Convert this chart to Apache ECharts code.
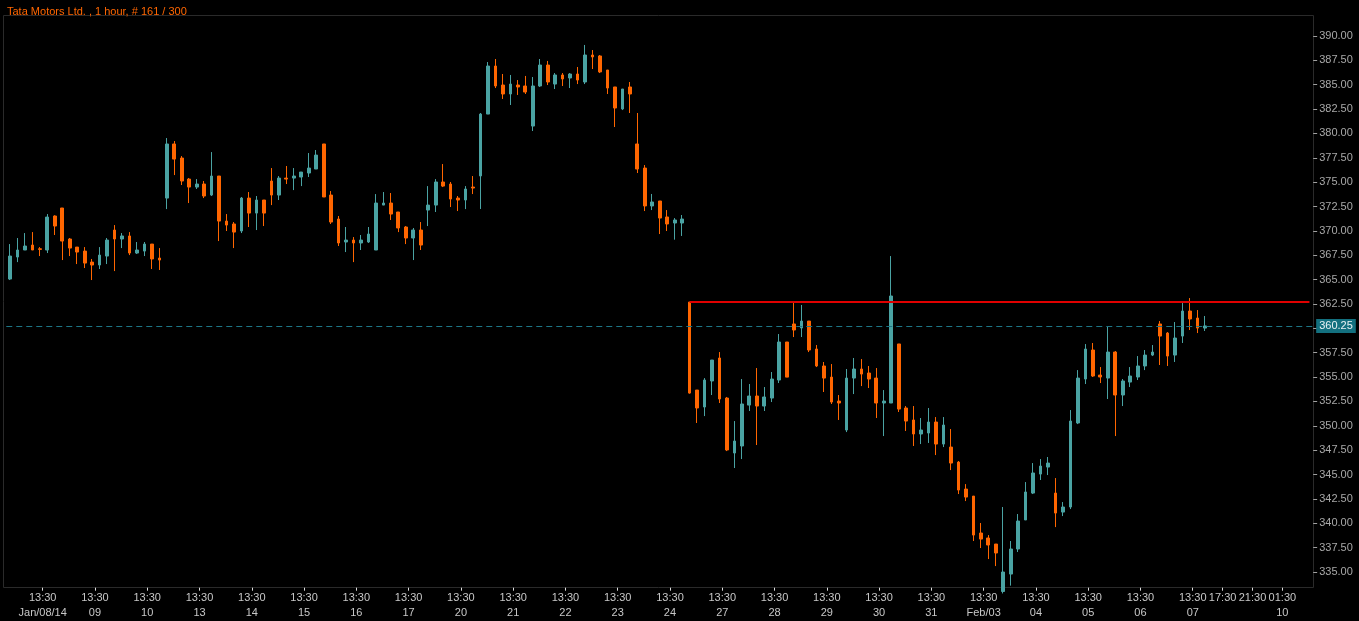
<!DOCTYPE html>
<html>
<head>
<meta charset="utf-8">
<script src="https://cdn.jsdelivr.net/npm/echarts@6/dist/echarts.min.js"></script>
<style>
html,body{margin:0;padding:0;background:#000;}
#c{width:1359px;height:621px;}
</style>
</head>
<body>
<div id="c"></div>
<script>
// ---- data ----
const titleText = 'Tata Motors Ltd. , 1 hour, # 161 / 300';
const days = ['Jan/08/14','09','10','13','14','15','16','17','20','21','22','23','24','27','28','29','30','31','Feb/03','04','05','06','07'];
const hours = ['09:30','10:30','11:30','12:30','13:30','14:30','15:30'];
const labeledHour = '13:30';
const futureHours = ['16:30','17:30','18:30','19:30','20:30','21:30','22:30','23:30','00:30','01:30','02:30','03:30','04:30','05:30'];
const futureTickHours = ['17:30','21:30','01:30'];
const futureTickDates = {'01:30':'10'};
// [open, high, low, close]
const ohlc = [
[365.06,368.65,364.96,367.42],[367.32,369.27,366.80,368.04],[368.04,369.78,368.04,368.45],[368.55,369.88,368.04,368.04],
[368.17,368.34,367.42,368.10],[368.04,371.73,367.73,371.42],[371.53,371.60,369.58,370.50],[372.35,372.35,367.01,368.96],
[369.17,369.27,367.42,368.24],[368.34,368.34,366.60,367.83],[367.93,368.34,366.19,366.70],[366.80,367.12,364.96,366.50],
[366.50,368.34,366.09,367.52],[367.42,369.27,366.60,369.06],[370.09,370.60,365.88,369.17],[369.17,369.78,368.24,369.48],
[369.48,369.88,367.52,367.73],[367.73,368.86,367.63,368.04],[367.93,368.86,367.42,368.65],[368.65,368.65,366.09,367.12],
[367.22,368.24,365.99,367.01],[373.37,379.53,372.24,378.92],[378.92,379.22,375.73,377.37],[377.48,377.68,374.71,375.12],
[375.32,375.43,372.86,374.50],[374.50,375.32,374.30,374.81],[374.81,375.12,373.37,373.58],[373.68,378.09,373.58,375.63],
[375.63,375.63,368.96,371.01],[371.01,371.73,369.99,370.60],[370.71,370.91,368.24,369.88],[369.99,373.48,369.78,373.37],
[373.37,373.99,370.40,371.83],[371.83,373.58,370.09,373.17],[373.17,373.17,370.50,371.83],[375.12,376.45,372.65,373.68],
[373.68,375.63,373.17,375.42],[375.42,376.66,374.81,375.32],[375.42,376.45,374.19,375.63],[375.53,376.04,374.60,376.04],
[375.94,377.99,375.53,376.45],[376.35,378.30,376.35,377.78],[378.92,378.92,373.48,373.48],[373.68,374.09,370.71,370.91],
[371.22,371.53,368.45,368.76],[368.86,370.40,367.83,369.06],[369.06,369.37,366.80,368.76],[368.76,369.58,368.04,369.06],
[368.86,370.40,368.76,369.68],[368.04,373.78,368.04,372.86],[372.65,373.99,372.65,372.86],[372.86,373.89,371.12,371.73],
[371.94,371.94,369.88,370.30],[370.40,370.50,368.65,369.27],[369.27,370.30,367.01,370.09],[370.09,370.91,368.04,368.55],
[372.14,374.60,370.50,372.65],[372.65,375.32,371.94,375.02],[375.02,376.86,374.50,374.60],[374.81,375.02,372.45,373.27],
[373.37,373.58,372.04,373.17],[373.17,374.60,372.24,374.30],[374.50,375.63,373.78,374.40],[375.64,382.10,372.25,381.99],
[381.99,387.33,381.99,386.92],[386.92,387.64,384.66,384.87],[384.97,386.10,383.54,384.05],[384.05,386.00,382.92,385.07],
[384.97,385.48,383.95,384.77],[384.87,385.90,384.05,384.25],[380.76,385.79,380.25,384.87],[384.87,387.64,384.77,387.02],
[387.02,387.44,384.97,385.28],[385.07,386.20,384.56,386.00],[386.00,386.20,384.87,385.59],[385.69,386.20,384.66,386.10],
[386.10,386.82,385.07,385.48],[385.28,389.08,385.07,388.05],[388.05,388.56,386.61,387.85],[387.95,388.05,386.20,386.31],
[386.51,386.51,384.05,384.66],[384.77,384.77,380.66,382.61],[382.51,384.56,382.40,384.56],[384.77,385.28,382.10,384.05],
[378.92,382.10,375.94,376.35],[376.45,376.76,372.04,372.56],[372.56,373.79,372.14,372.97],[373.07,373.07,369.68,371.32],
[371.43,372.14,369.99,370.71],[370.81,371.32,369.10,371.12],[370.81,371.63,369.48,371.22],[362.70,362.70,353.30,353.36],
[353.67,353.67,350.29,351.83],[351.93,354.90,351.00,354.70],[354.60,356.75,353.16,356.75],[356.96,357.57,352.34,352.75],
[352.85,352.96,347.41,347.52],[347.21,350.49,345.67,348.44],[347.93,354.80,346.59,352.24],[352.13,354.29,351.52,353.06],
[353.06,355.93,348.03,352.03],[352.03,353.98,351.52,352.96],[352.85,355.52,352.44,354.80],[354.70,359.42,354.39,358.60],
[358.60,358.60,355.00,355.00],[360.45,362.60,359.11,359.83],[360.04,362.40,359.11,360.75],[360.75,360.75,357.57,357.78],
[357.88,358.29,356.03,356.14],[356.14,356.55,353.47,354.90],[355.00,356.34,352.24,352.44],[352.54,353.16,350.60,352.34],
[349.57,355.83,349.36,354.90],[354.90,356.96,353.26,355.83],[355.83,356.85,354.08,355.31],[355.42,356.14,353.88,354.80],
[354.90,355.93,350.80,352.34],[352.34,353.67,348.95,352.54],[352.34,367.42,352.34,363.32],[358.40,358.40,351.42,351.72],
[351.83,352.03,349.47,350.49],[350.60,352.03,347.93,349.16],[349.16,350.80,348.13,349.57],[349.26,351.83,348.24,350.39],
[350.39,350.90,347.00,348.13],[348.13,350.90,347.82,350.08],[347.82,349.67,345.46,346.18],[346.28,346.39,343.00,343.41],
[343.51,344.02,342.28,342.69],[342.79,342.79,338.18,338.79],[339.00,340.03,337.46,338.38],[338.49,338.79,336.33,337.77],
[337.87,337.87,335.61,336.95],[333.00,341.67,332.80,335.00],[334.79,338.18,333.60,337.36],[337.36,340.95,337.05,340.23],
[340.34,344.23,340.34,343.21],[343.10,346.18,343.00,345.16],[345.05,346.59,344.44,345.87],[345.77,346.80,344.95,346.18],
[343.10,344.64,339.61,341.05],[341.15,342.18,340.74,341.67],[341.67,351.62,341.46,350.49],[350.29,355.72,350.18,354.90],
[354.80,358.39,354.29,357.88],[357.78,358.50,355.01,355.11],[355.21,356.03,354.39,355.01],[354.90,360.24,352.75,357.57],
[357.57,357.67,348.95,353.16],[353.16,354.80,352.03,354.60],[354.49,356.03,353.98,355.11],[355.01,357.16,354.70,356.14],
[356.14,357.78,355.72,357.26],[357.26,358.29,357.16,357.57],[360.45,360.75,356.24,359.21],[359.52,359.62,356.14,357.16],
[357.26,360.65,356.55,359.01],[359.21,362.60,358.50,361.78],[361.78,363.11,359.83,360.96],[361.06,361.88,359.52,360.03],
[360.03,361.27,359.73,360.25]
];
const resistanceLevel = 362.70;
const resistanceStartIndex = 91;
const yMin = 333.39, yMax = 392.155, yStep = 2.5;

// ---- build ----
const categories = [];
const tickText = {};
days.forEach(d => hours.forEach(h => {
  const idx = categories.length;
  categories.push(d + ' ' + h);
  if (h === labeledHour) tickText[idx] = h + '\n' + d;
}));
futureHours.forEach(h => {
  const idx = categories.length;
  categories.push('+' + h);
  if (futureTickHours.includes(h)) tickText[idx] = h + (futureTickDates[h] ? '\n' + futureTickDates[h] : '');
});
const candleData = ohlc.map(r => [r[0], r[3], r[2], r[1]]);
const lastClose = ohlc[ohlc.length - 1][3];

const UP = '#4aa3a3', DOWN = '#ff6600';
const slot = 7.468, N = categories.length;
const g0Left = 10 - slot / 2;
const fontFam = '"Liberation Sans", Arial, sans-serif';

const chart = echarts.init(document.getElementById('c'), null, {renderer: 'canvas'});
chart.setOption({
  backgroundColor: '#000',
  animation: false,
  title: {
    text: titleText, left: 2, top: 1,
    textStyle: {color: '#ff6600', fontSize: 11, fontWeight: 'normal', fontFamily: fontFam}
  },
  graphic: [{
    type: 'rect', silent: true, z: -1,
    shape: {x: 3.5, y: 15.5, width: 1310, height: 572},
    style: {fill: 'none', stroke: '#2a2a2a', lineWidth: 1}
  }],
  grid: [
    {left: g0Left, width: N * slot, top: 15, height: 572.7},
    {left: g0Left + 2.8, width: N * slot, top: 15, height: 572.7}
  ],
  xAxis: [
    {type: 'category', gridIndex: 0, data: categories, boundaryGap: true,
     axisLine: {show: false}, axisTick: {show: false}, axisLabel: {show: false}, splitLine: {show: false}},
    {type: 'category', gridIndex: 1, data: categories, boundaryGap: true,
     axisLine: {show: false},
     axisTick: {show: true, alignWithLabel: true, length: 3, interval: (i) => tickText[i] !== undefined,
                lineStyle: {color: '#dddddd', width: 1}},
     axisLabel: {show: true, interval: (i) => tickText[i] !== undefined, formatter: (v, i) => tickText[i] || '',
                 color: '#c8c8c8', fontSize: 11, lineHeight: 15, margin: 3, fontFamily: fontFam},
     splitLine: {show: false}}
  ],
  yAxis: [
    {type: 'value', gridIndex: 0, position: 'right', min: yMin, max: yMax,
     minInterval: yStep, maxInterval: yStep, scale: true,
     axisLine: {show: false}, splitLine: {show: false},
     axisTick: {show: true, length: 4, lineStyle: {color: '#a0a0a0'}},
     axisLabel: {color: '#a8a8a8', fontSize: 11, margin: 6, fontFamily: fontFam,
                 showMinLabel: false, showMaxLabel: false,
                 formatter: v => (Math.abs(v / yStep - Math.round(v / yStep)) < 1e-6 ? v.toFixed(2) : '')}},
    {type: 'value', gridIndex: 1, show: false, min: 0, max: 1}
  ],
  series: [{
    type: 'candlestick',
    xAxisIndex: 0, yAxisIndex: 0,
    data: candleData,
    barWidth: 3.2,
    clip: true,
    itemStyle: {color: UP, color0: DOWN, borderColor: UP, borderColor0: DOWN, borderWidth: 1},
    markLine: {
      silent: true, symbol: ['none', 'none'], animation: false,
      data: [
        {yAxis: lastClose,
         lineStyle: {color: '#1d7585', type: [6, 4], width: 1},
         label: {show: true, position: 'end', distance: 3, formatter: () => lastClose.toFixed(2),
                 backgroundColor: '#13707f', color: '#e8f2f4', fontSize: 11, fontFamily: fontFam,
                 padding: [2, 3, 1, 3]}},
        [{coord: [resistanceStartIndex, resistanceLevel],
          lineStyle: {color: '#e00000', width: 2, type: 'solid'}, label: {show: false}},
         {coord: [N - 1, resistanceLevel]}]
      ]
    }
  }]
});
</script>
</body>
</html>
